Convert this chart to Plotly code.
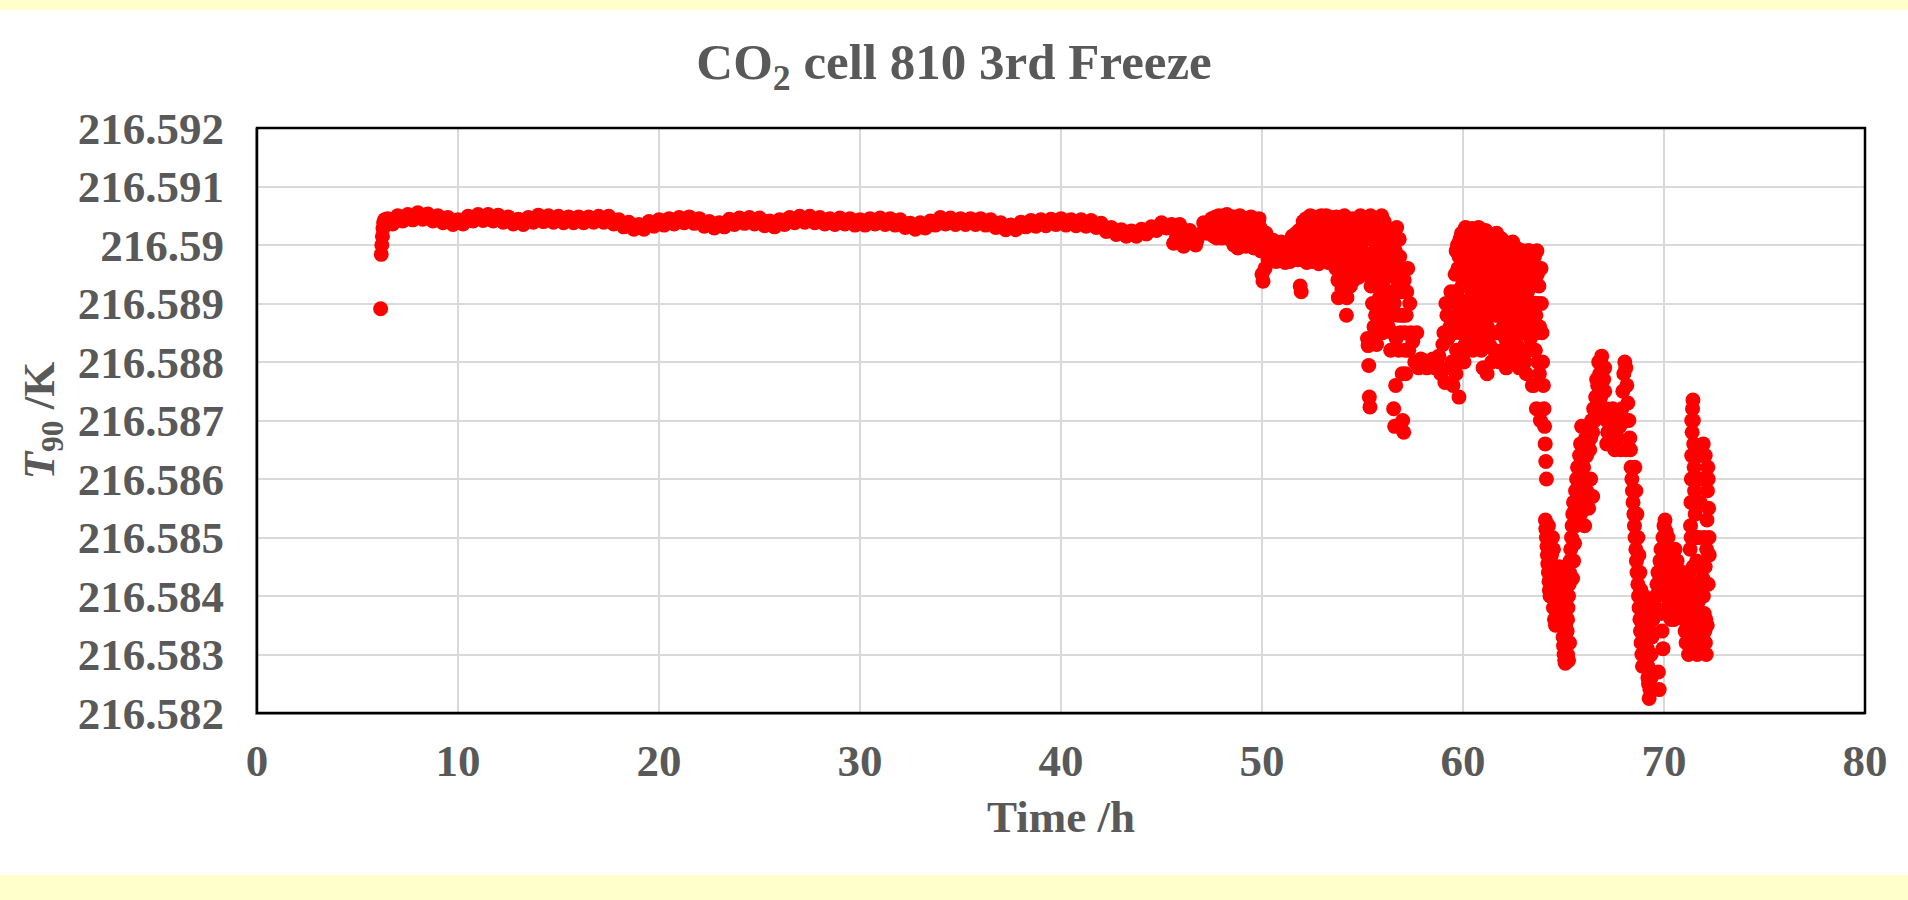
import plotly.graph_objects as go

# ---------------- data ----------------
time_start = [6.15, 6.18, 6.21, 6.24, 6.27, 6.30, 6.35]
t90_start = [216.58891, 216.58984, 216.59000, 216.59015, 216.59028, 216.59038, 216.59043]

time_plateau = [
    6.50, 6.75, 7.00, 7.25, 7.50, 7.75, 8.00, 8.25,
    8.50, 8.75, 9.00, 9.25, 9.50, 9.75, 10.00, 10.25,
    10.50, 10.75, 11.00, 11.25, 11.50, 11.75, 12.00, 12.25,
    12.50, 12.75, 13.00, 13.25, 13.50, 13.75, 14.00, 14.25,
    14.50, 14.75, 15.00, 15.25, 15.50, 15.75, 16.00, 16.25,
    16.50, 16.75, 17.00, 17.25, 17.50, 17.75, 18.00, 18.25,
    18.50, 18.75, 19.00, 19.25, 19.50, 19.75, 20.00, 20.25,
    20.50, 20.75, 21.00, 21.25, 21.50, 21.75, 22.00, 22.25,
    22.50, 22.75, 23.00, 23.25, 23.50, 23.75, 24.00, 24.25,
    24.50, 24.75, 25.00, 25.25, 25.50, 25.75, 26.00, 26.25,
    26.50, 26.75, 27.00, 27.25, 27.50, 27.75, 28.00, 28.25,
    28.50, 28.75, 29.00, 29.25, 29.50, 29.75, 30.00, 30.25,
    30.50, 30.75, 31.00, 31.25, 31.50, 31.75, 32.00, 32.25,
    32.50, 32.75, 33.00, 33.25, 33.50, 33.75, 34.00, 34.25,
    34.50, 34.75, 35.00, 35.25, 35.50, 35.75, 36.00, 36.25,
    36.50, 36.75, 37.00, 37.25, 37.50, 37.75, 38.00, 38.25,
    38.50, 38.75, 39.00, 39.25, 39.50, 39.75, 40.00, 40.25,
    40.50, 40.75, 41.00, 41.25, 41.50, 41.75, 42.00, 42.25,
    42.50, 42.75, 43.00, 43.25, 43.50, 43.75, 44.00, 44.25,
    44.50, 44.75, 45.00, 45.25, 45.50, 45.75, 46.00, 46.25,
    46.50, 46.75, 47.00, 47.25,
]
t90_plateau = [
    216.59045, 216.59036, 216.59050, 216.59041, 216.59052, 216.59043, 216.59055, 216.59044,
    216.59053, 216.59041, 216.59050, 216.59038, 216.59047, 216.59035, 216.59043, 216.59036,
    216.59049, 216.59041, 216.59052, 216.59042, 216.59052, 216.59041, 216.59051, 216.59039,
    216.59048, 216.59036, 216.59044, 216.59035, 216.59047, 216.59039, 216.59051, 216.59040,
    216.59050, 216.59039, 216.59049, 216.59038, 216.59048, 216.59038, 216.59048, 216.59038,
    216.59048, 216.59039, 216.59049, 216.59039, 216.59049, 216.59036, 216.59043, 216.59031,
    216.59039, 216.59027, 216.59035, 216.59027, 216.59040, 216.59032, 216.59043, 216.59034,
    216.59045, 216.59036, 216.59047, 216.59038, 216.59048, 216.59037, 216.59045, 216.59032,
    216.59040, 216.59029, 216.59038, 216.59031, 216.59044, 216.59035, 216.59046, 216.59037,
    216.59047, 216.59036, 216.59046, 216.59033, 216.59041, 216.59031, 216.59043, 216.59035,
    216.59047, 216.59038, 216.59049, 216.59039, 216.59049, 216.59038, 216.59047, 216.59036,
    216.59045, 216.59035, 216.59046, 216.59036, 216.59045, 216.59034, 216.59043, 216.59034,
    216.59045, 216.59036, 216.59046, 216.59035, 216.59045, 216.59034, 216.59043, 216.59030,
    216.59037, 216.59027, 216.59038, 216.59029, 216.59041, 216.59034, 216.59047, 216.59036,
    216.59046, 216.59035, 216.59045, 216.59035, 216.59045, 216.59035, 216.59045, 216.59034,
    216.59043, 216.59030, 216.59038, 216.59026, 216.59034, 216.59026, 216.59039, 216.59031,
    216.59042, 216.59032, 216.59043, 216.59033, 216.59044, 216.59035, 216.59045, 216.59034,
    216.59043, 216.59033, 216.59043, 216.59032, 216.59042, 216.59030, 216.59037, 216.59023,
    216.59030, 216.59018, 216.59026, 216.59015, 216.59024, 216.59015, 216.59027, 216.59019,
    216.59031, 216.59025, 216.59038, 216.59029, 216.59035, 216.59015, 216.59020, 216.59007,
    216.59015, 216.59007, 216.59020, 216.59020,
]

time_dip = [45.60, 45.90, 46.10, 46.40, 46.70, 47.10]
t90_dip = [216.59003, 216.59035, 216.58998, 216.59025, 216.59000, 216.59038]

time_onset = [
    47.40, 47.50, 47.60, 47.70, 47.80, 47.90, 48.00, 48.10, 48.20, 48.30,
    48.40, 48.50, 48.60, 48.70, 48.80, 48.90, 49.00, 49.10, 49.20, 49.30,
    49.40, 49.50, 49.60, 49.70, 49.80, 49.90, 50.00, 50.05, 50.10, 50.20,
    50.30, 50.40, 50.50, 50.60, 50.70, 50.80, 50.90, 51.00, 51.10, 51.20,
    51.30, 51.40, 51.50, 51.60, 51.70, 51.80, 51.90, 51.95, 52.00, 52.10,
    52.20, 52.30, 52.40, 52.50, 52.60, 52.70, 52.80, 52.90, 53.00, 53.10,
    53.20, 53.30, 53.40, 53.50, 53.60, 53.70, 53.80, 53.90, 54.00, 54.10,
    54.20, 54.30, 54.40, 54.50, 54.60, 54.70, 54.80, 54.90, 55.00, 55.10,
    55.20, 55.25, 55.28, 55.31, 55.34, 55.37, 55.40, 55.50, 55.60, 55.70,
    55.80, 55.90, 56.00, 56.10, 56.20, 56.30, 56.40, 56.50, 56.55, 56.60,
    56.65, 56.70, 56.80, 56.90, 57.00, 57.05, 57.10, 57.15, 57.20, 57.30,
    57.40,
]
t90_onset = [
    216.59030, 216.59045, 216.59015, 216.59048, 216.59025, 216.59040, 216.59012, 216.59050, 216.59030, 216.59045,
    216.59010, 216.59048, 216.59000, 216.59035, 216.58995, 216.59050, 216.59015, 216.59042, 216.58998, 216.59045,
    216.59020, 216.59035, 216.58995, 216.59040, 216.59010, 216.59030, 216.58950, 216.58938, 216.58995, 216.59020,
    216.58975, 216.59000, 216.58980, 216.58995, 216.58972, 216.58998, 216.58985, 216.58975, 216.58998, 216.58980,
    216.58995, 216.58972, 216.59015, 216.58985, 216.59020, 216.58975, 216.58930, 216.58920, 216.59010, 216.58975,
    216.59045, 216.58990, 216.59050, 216.58972, 216.59035, 216.59005, 216.59048, 216.58980, 216.59040, 216.58995,
    216.59050, 216.58970, 216.59025, 216.59045, 216.58985, 216.59048, 216.58910, 216.59030, 216.58950, 216.59050,
    216.58880, 216.59005, 216.58930, 216.59045, 216.58970, 216.59020, 216.58945, 216.59050, 216.58960, 216.59035,
    216.58985, 216.58840, 216.58828, 216.58794, 216.58740, 216.58723, 216.59050, 216.58900, 216.59020, 216.58830,
    216.59045, 216.58960, 216.58850, 216.59030, 216.58920, 216.58990, 216.58820, 216.58880, 216.58720, 216.58690,
    216.58760, 216.59030, 216.58820, 216.58960, 216.58700, 216.58680, 216.58850, 216.58780, 216.58920, 216.58820,
    216.58850,
]

time_onset_b = [
    47.45, 47.55, 47.65, 47.75, 47.85, 47.95, 48.05, 48.15, 48.25, 48.35,
    48.45, 48.55, 48.65, 48.75, 48.85, 48.95, 49.05, 49.15, 49.25, 49.35,
    49.45, 49.55, 49.65, 49.75, 49.85, 49.95, 50.15, 50.25, 50.35, 50.45,
    50.55, 50.65, 50.75, 50.85, 50.95, 51.05, 51.15, 51.25, 51.35, 51.45,
    51.55, 51.65, 51.75, 51.85, 52.05, 52.15, 52.25, 52.35, 52.45, 52.55,
    52.65, 52.75, 52.85, 52.95, 53.05, 53.15, 53.25, 53.35, 53.45, 53.55,
    53.65, 53.75, 53.85, 53.95, 54.05, 54.15, 54.25, 54.35, 54.45, 54.55,
    54.65, 54.75, 54.85, 54.95, 55.05, 55.15, 55.45, 55.55, 55.65, 55.75,
    55.85, 55.95, 56.05, 56.15, 56.25, 56.35, 56.45, 56.75, 56.85, 56.95,
    57.25, 57.35,
]
t90_onset_b = [
    216.59040, 216.59020, 216.59035, 216.59012, 216.59050, 216.59028, 216.59042, 216.59018, 216.59052, 216.59025,
    216.59038, 216.59015, 216.59048, 216.59020, 216.59040, 216.59005, 216.59030, 216.59010, 216.59032, 216.59002,
    216.59048, 216.59012, 216.59025, 216.59000, 216.59045, 216.58990, 216.58960, 216.58985, 216.59005, 216.58988,
    216.59008, 216.58980, 216.58992, 216.58975, 216.59005, 216.58985, 216.58970, 216.59002, 216.58985, 216.59005,
    216.58975, 216.59010, 216.58990, 216.59025, 216.59040, 216.59020, 216.59000, 216.59030, 216.59015, 216.59048,
    216.58990, 216.59025, 216.59012, 216.59050, 216.59020, 216.59035, 216.59005, 216.59048, 216.58990, 216.59015,
    216.59030, 216.58990, 216.59045, 216.58975, 216.59015, 216.58920, 216.59040, 216.58960, 216.58990, 216.58940,
    216.59030, 216.58990, 216.59010, 216.58970, 216.59045, 216.58950, 216.59010, 216.58960, 216.58880, 216.58990,
    216.58910, 216.59050, 216.58940, 216.58870, 216.59000, 216.58950, 216.59020, 216.58920, 216.58980, 216.58880,
    216.58960, 216.58900,
]

time_onset_c = [
    52.025, 52.075, 52.125, 52.175, 52.225, 52.275, 52.325, 52.375, 52.425, 52.475,
    52.525, 52.575, 52.625, 52.675, 52.725, 52.775, 52.825, 52.875, 52.925, 52.975,
    53.025, 53.075, 53.125, 53.175, 53.225, 53.275, 53.325, 53.375, 53.425, 53.475,
    53.525, 53.575, 53.625, 53.675, 53.725, 53.775, 53.825, 53.875, 53.925, 53.975,
    54.025, 54.075, 54.125, 54.175, 54.225, 54.275, 54.325, 54.375, 54.425, 54.475,
    54.525, 54.575, 54.625, 54.675, 54.725, 54.775, 54.825, 54.875, 54.925, 54.975,
    55.025, 55.075, 55.125, 55.175, 55.425, 55.475, 55.525, 55.575, 55.625, 55.675,
    55.725, 55.775, 55.825, 55.875, 55.925, 55.975, 56.025, 56.075, 56.125, 56.175,
    56.225, 56.275, 56.325, 56.375, 56.425, 56.475, 56.525, 56.575, 56.625, 56.675,
    56.725, 56.775, 56.825, 56.875, 56.925, 56.975, 57.025, 57.075, 57.125, 57.175,
]
t90_onset_c = [
    216.59005, 216.59035, 216.58985, 216.59022, 216.58970, 216.59040, 216.59010, 216.58980, 216.59028, 216.58995,
    216.59042, 216.59012, 216.58975, 216.59032, 216.58990, 216.59020, 216.58968, 216.59038, 216.59008, 216.58985,
    216.59025, 216.58975, 216.59040, 216.59015, 216.58985, 216.59030, 216.59000, 216.58970, 216.59038, 216.59010,
    216.58980, 216.59030, 216.59005, 216.58960, 216.59020, 216.58940, 216.59000, 216.58960, 216.59040, 216.58925,
    216.58990, 216.59030, 216.58960, 216.59000, 216.58910, 216.59025, 216.58980, 216.58945, 216.59010, 216.58965,
    216.59030, 216.58985, 216.58950, 216.59040, 216.58965, 216.59035, 216.58975, 216.59020, 216.58950, 216.59005,
    216.58980, 216.59020, 216.58965, 216.59040, 216.58930, 216.58970, 216.59040, 216.58860, 216.58950, 216.59000,
    216.58900, 216.58970, 216.58850, 216.59010, 216.58920, 216.58980, 216.58890, 216.59040, 216.58960, 216.58900,
    216.59010, 216.58860, 216.58970, 216.58920, 216.58990, 216.58850, 216.58960, 216.58900, 216.58990, 216.58840,
    216.58940, 216.58880, 216.59010, 216.58850, 216.58920, 216.58780, 216.58880, 216.58940, 216.58820, 216.58880,
]

time_cluster = [
    57.50, 57.60, 57.70, 57.80, 57.90, 58.00, 58.10, 58.20, 58.30, 58.40,
    58.50, 58.60, 58.70, 58.80, 58.90, 59.00, 59.10, 59.20, 59.30, 59.40,
    59.50, 59.55, 59.60, 59.65, 59.70, 59.75, 59.80, 59.85, 59.90, 59.95,
    60.00, 60.05, 60.10, 60.15, 60.20, 60.25, 60.30, 60.35, 60.40, 60.45,
    60.50, 60.55, 60.60, 60.65, 60.70, 60.75, 60.80, 60.85, 60.90, 60.95,
    61.00, 61.05, 61.10, 61.15, 61.20, 61.25, 61.30, 61.35, 61.40, 61.45,
    61.50, 61.55, 61.60, 61.65, 61.70, 61.75, 61.80, 61.85, 61.90, 61.95,
    62.00, 62.05, 62.10, 62.15, 62.20, 62.25, 62.30, 62.35, 62.40, 62.45,
    62.50, 62.55, 62.60, 62.65, 62.70, 62.75, 62.80, 62.85, 62.90, 62.95,
    63.00, 63.05, 63.10, 63.15, 63.20, 63.25, 63.30, 63.35, 63.40, 63.45,
    63.50, 63.55, 63.60, 63.65, 63.70, 63.75, 63.80, 63.85, 63.88, 63.90,
    63.93, 63.96, 64.00, 64.03, 64.06, 64.09, 64.12, 64.15,
]
t90_cluster = [
    216.58835, 216.58800, 216.58850, 216.58790, 216.58805, 216.58795, 216.58802, 216.58790, 216.58800, 216.58795,
    216.58805, 216.58790, 216.58800, 216.58810, 216.58780, 216.58830, 216.58765, 216.58880, 216.58790, 216.58920,
    216.58760, 216.58850, 216.58920, 216.58780, 216.58880, 216.58960, 216.58740, 216.59010, 216.58860, 216.58930,
    216.59020, 216.58800, 216.58970, 216.58880, 216.59025, 216.58940, 216.58850, 216.59000, 216.58910, 216.59028,
    216.58820, 216.58960, 216.58870, 216.59020, 216.58930, 216.58990, 216.58850, 216.59025, 216.58900, 216.58960,
    216.58790, 216.59010, 216.58870, 216.58940, 216.58780, 216.59020, 216.58910, 216.58980, 216.58850, 216.59015,
    216.58930, 216.58820, 216.58990, 216.58880, 216.59010, 216.58950, 216.58800, 216.59012, 216.58900, 216.58970,
    216.58860, 216.59005, 216.58930, 216.58790, 216.58980, 216.58880, 216.59000, 216.58940, 216.58830, 216.58990,
    216.58900, 216.58960, 216.58800, 216.58995, 216.58870, 216.58940, 216.58790, 216.58990, 216.58900, 216.58960,
    216.58850, 216.58985, 216.58920, 216.58780, 216.58960, 216.58880, 216.58990, 216.58840, 216.58930, 216.58760,
    216.58900, 216.58980, 216.58820, 216.58720, 216.58950, 216.58860, 216.58780, 216.58700, 216.58960, 216.58900,
    216.58850, 216.58800, 216.58760, 216.58720, 216.58690, 216.58660, 216.58630, 216.58600,
]

time_cluster_b = [
    59.05, 59.15, 59.25, 59.35, 59.45,
    59.625, 59.675, 59.725, 59.775, 59.825, 59.875, 59.925, 59.975,
    60.025, 60.075, 60.125, 60.175, 60.225, 60.275, 60.325, 60.375, 60.425, 60.475,
    60.525, 60.575, 60.625, 60.675, 60.725, 60.775, 60.825, 60.875, 60.925, 60.975,
    61.025, 61.075, 61.125, 61.175, 61.225, 61.275, 61.325, 61.375, 61.425, 61.475,
    61.525, 61.575, 61.625, 61.675, 61.725, 61.775, 61.825, 61.875, 61.925, 61.975,
    62.025, 62.075, 62.125, 62.175, 62.225, 62.275, 62.325, 62.375, 62.425, 62.475,
    62.525, 62.575, 62.625, 62.675, 62.725, 62.775, 62.825, 62.875, 62.925, 62.975,
    63.025, 63.075, 63.125, 63.175, 63.225, 63.275, 63.325, 63.375, 63.425, 63.475,
    63.525, 63.575, 63.625, 63.675, 63.725, 63.775,
]
t90_cluster_b = [
    216.58850, 216.58900, 216.58840, 216.58860, 216.58800,
    216.58900, 216.58820, 216.59000, 216.58870, 216.58950, 216.58800, 216.59020, 216.58900,
    216.58960, 216.58860, 216.59030, 216.58930, 216.58820, 216.58990, 216.58950, 216.58860, 216.58970, 216.58900,
    216.59010, 216.58830, 216.58990, 216.58890, 216.58960, 216.59030, 216.58920, 216.58860, 216.59010, 216.58940,
    216.58900, 216.58960, 216.59025, 216.58830, 216.58960, 216.58880, 216.59000, 216.58920, 216.58800, 216.58970,
    216.59010, 216.58890, 216.58940, 216.59020, 216.58850, 216.58980, 216.58920, 216.58960, 216.59010, 216.58820,
    216.58960, 216.58900, 216.59000, 216.58850, 216.58940, 216.58990, 216.58900, 216.58810, 216.58960, 216.59005,
    216.58860, 216.58920, 216.58980, 216.58830, 216.58990, 216.58910, 216.58860, 216.58950, 216.58820, 216.58990,
    216.58920, 216.58800, 216.58960, 216.58890, 216.58990, 216.58820, 216.58940, 216.58880, 216.58980, 216.58850,
    216.58760, 216.58940, 216.58880, 216.58990, 216.58800, 216.58930,
]

time_cluster_c = [
    59.61, 59.66, 59.71, 59.76, 59.81, 59.86, 59.91, 59.96, 60.01, 60.06,
    60.11, 60.16, 60.21, 60.26, 60.31, 60.36, 60.41, 60.46, 60.51, 60.56,
    60.61, 60.66, 60.71, 60.76, 60.81, 60.86, 60.91, 60.96, 61.01, 61.06,
    61.11, 61.16, 61.21, 61.26, 61.31, 61.36, 61.41, 61.46, 61.51, 61.56,
    61.61, 61.66, 61.71, 61.76, 61.81, 61.86, 61.91, 61.96, 62.01, 62.06,
    62.11, 62.16, 62.21, 62.26, 62.31, 62.36, 62.41, 62.46, 62.51, 62.56,
    62.61, 62.66, 62.71, 62.76, 62.81, 62.86, 62.91, 62.96, 63.01, 63.06,
    63.11, 63.16, 63.21, 63.26, 63.31, 63.36, 63.41, 63.46, 63.51, 63.56,
    63.61, 63.66, 63.71, 63.76, 63.81,
]
t90_cluster_c = [
    216.58950, 216.58990, 216.58800, 216.58910, 216.58980, 216.58850, 216.58950, 216.59000, 216.58880, 216.58940,
    216.58830, 216.59010, 216.58900, 216.58980, 216.59020, 216.58940, 216.58860, 216.58970, 216.58920, 216.59025,
    216.58840, 216.58950, 216.58890, 216.58860, 216.58970, 216.58940, 216.58820, 216.59010, 216.58940, 216.58850,
    216.58990, 216.58900, 216.58860, 216.58960, 216.58830, 216.59010, 216.58940, 216.58880, 216.58970, 216.58920,
    216.58850, 216.58990, 216.58940, 216.58880, 216.58930, 216.58850, 216.58980, 216.58920, 216.58880, 216.58950,
    216.58840, 216.58990, 216.58920, 216.58850, 216.58960, 216.58900, 216.58980, 216.58860, 216.58940, 216.58880,
    216.58960, 216.58920, 216.58850, 216.58980, 216.58930, 216.58880, 216.58930, 216.58860, 216.58960, 216.58880,
    216.58940, 216.58860, 216.58920, 216.58960, 216.58880, 216.58960, 216.58900, 216.58950, 216.58860, 216.58900,
    216.58960, 216.58850, 216.58900, 216.58960, 216.58860,
]

time_fall = [
    64.10, 64.12, 64.15, 64.18, 64.20, 64.22, 64.25, 64.28, 64.30, 64.33,
    64.36, 64.40, 64.45, 64.50, 64.55, 64.60, 64.65, 64.70, 64.75, 64.80,
    64.83, 64.86, 64.89, 64.92, 64.95, 64.98, 65.00, 65.03, 65.06, 65.09,
    65.12, 65.15, 65.18, 65.20, 65.22, 65.25, 65.28, 65.30, 65.33, 65.36,
    65.40, 65.43, 65.46, 65.50, 65.55, 65.60, 65.65, 65.70, 65.75, 65.80,
    65.85, 65.90, 65.95, 66.00, 66.05, 66.10, 66.15, 66.20, 66.25, 66.30,
    66.35, 66.40, 66.45, 66.50, 66.55, 66.60, 66.65, 66.70, 66.75, 66.80,
    66.85, 66.90, 66.95, 67.00, 67.05, 67.10, 67.15, 67.20, 67.25, 67.30,
    67.40, 67.50, 67.60, 67.70, 67.80, 67.90, 67.95, 68.00, 68.05, 68.10,
    68.15, 68.20, 68.25, 68.30, 68.33, 68.36, 68.40, 68.43, 68.46, 68.50,
    68.53, 68.56, 68.60, 68.63, 68.66, 68.70, 68.73, 68.76, 68.80, 68.83,
    68.86, 68.90, 68.93, 68.96, 69.00, 69.03, 69.06, 69.10, 69.13, 69.16,
    69.20, 69.23, 69.26, 69.30, 69.33, 69.36, 69.40, 69.45, 69.50, 69.55,
    69.60, 69.65, 69.70, 69.75, 69.80, 69.85, 69.90, 69.95, 70.00, 70.05,
    70.10, 70.15, 70.20, 70.25, 70.30, 70.35, 70.40, 70.45, 70.50, 70.55,
    70.60, 70.65, 70.70, 70.75, 70.80, 70.85, 70.90, 70.95, 71.00, 71.05,
    71.10, 71.15, 71.20, 71.25, 71.28, 71.30, 71.32, 71.34, 71.36, 71.38,
    71.40, 71.42, 71.44, 71.46, 71.48, 71.50, 71.52, 71.55, 71.58, 71.60,
    71.63, 71.66, 71.70, 71.73, 71.76, 71.80, 71.83, 71.86, 71.90, 71.93,
    71.96, 72.00, 72.03, 72.06, 72.08, 72.10, 72.12, 72.14, 72.16, 72.18,
    72.20, 72.22, 72.24, 72.25,
]
t90_fall = [
    216.58530, 216.58515, 216.58500, 216.58485, 216.58470, 216.58455, 216.58440, 216.58425, 216.58410, 216.58400,
    216.58440, 216.58470, 216.58500, 216.58480, 216.58450, 216.58350, 216.58440, 216.58420, 216.58400, 216.58450,
    216.58430, 216.58410, 216.58390, 216.58370, 216.58350, 216.58330, 216.58315, 216.58300, 216.58290, 216.58285,
    216.58300, 216.58320, 216.58340, 216.58360, 216.58380, 216.58400, 216.58420, 216.58440, 216.58460, 216.58480,
    216.58500, 216.58520, 216.58540, 216.58560, 216.58545, 216.58580, 216.58600, 216.58620, 216.58600, 216.58640,
    216.58660, 216.58690, 216.58640, 216.58620, 216.58650, 216.58670, 216.58640, 216.58660, 216.58680, 216.58650,
    216.58670, 216.58700, 216.58680, 216.58720, 216.58700, 216.58740, 216.58710, 216.58760, 216.58730, 216.58780,
    216.58800, 216.58810, 216.58790, 216.58770, 216.58750, 216.58720, 216.58700, 216.58680, 216.58700, 216.58680,
    216.58660, 216.58680, 216.58700, 216.58670, 216.58690, 216.58720, 216.58750, 216.58780, 216.58800, 216.58790,
    216.58760, 216.58730, 216.58700, 216.58670, 216.58650, 216.58620, 216.58600, 216.58580, 216.58560, 216.58540,
    216.58520, 216.58500, 216.58480, 216.58460, 216.58440, 216.58420, 216.58400, 216.58380, 216.58360, 216.58340,
    216.58320, 216.58300, 216.58280, 216.58300, 216.58330, 216.58360, 216.58390, 216.58370, 216.58340, 216.58310,
    216.58280, 216.58250, 216.58225, 216.58240, 216.58270, 216.58300, 216.58330, 216.58360, 216.58390, 216.58370,
    216.58400, 216.58420, 216.58440, 216.58410, 216.58460, 216.58480, 216.58450, 216.58500, 216.58520, 216.58530,
    216.58510, 216.58480, 216.58450, 216.58420, 216.58390, 216.58360, 216.58380, 216.58420, 216.58460, 216.58480,
    216.58450, 216.58420, 216.58390, 216.58370, 216.58400, 216.58430, 216.58410, 216.58380, 216.58360, 216.58340,
    216.58320, 216.58340, 216.58370, 216.58400, 216.58440, 216.58480, 216.58520, 216.58560, 216.58600, 216.58640,
    216.58680, 216.58720, 216.58735, 216.58700, 216.58660, 216.58620, 216.58580, 216.58540, 216.58500, 216.58500,
    216.58460, 216.58420, 216.58390, 216.58360, 216.58330, 216.58310, 216.58340, 216.58370, 216.58400, 216.58430,
    216.58400, 216.58370, 216.58340, 216.58320, 216.58360, 216.58420, 216.58480, 216.58530, 216.58580, 216.58620,
    216.58600, 216.58550, 216.58500, 216.58470,
]

time_fall_b = [
    64.25, 64.30, 64.35, 64.40, 64.45, 64.50, 64.55,
    64.95, 65.00, 65.05, 65.10, 65.15, 65.20, 65.25, 65.30,
    65.45, 65.50, 65.55, 65.60, 65.65, 65.70, 65.75, 65.80, 65.90,
    65.85, 65.95, 66.05, 66.15, 66.25, 66.35, 66.45,
    66.65, 66.75, 66.85, 66.95, 67.05, 67.15, 67.35, 67.45, 67.55, 67.65, 67.75, 67.85, 68.10, 68.15,
    68.55, 68.60, 68.65, 68.70, 68.75, 68.80, 68.85, 68.90, 68.95, 69.00, 69.05, 69.10, 69.15, 69.20,
    69.25, 69.30, 69.35, 69.40, 69.72, 69.76,
    69.85, 69.90, 69.95, 70.00, 70.05, 70.10, 70.15, 70.20, 70.25, 70.30, 70.35, 70.40, 70.45, 70.50, 70.55,
    70.65, 70.75, 70.85, 70.95, 71.05, 71.15, 71.20, 71.22,
    71.33, 71.35, 71.36, 71.38, 71.40, 71.42, 71.45, 71.48, 71.50,
    71.65, 71.70, 71.75, 71.80, 71.85, 71.90, 71.95, 72.00, 72.05, 72.05, 72.10, 72.15, 72.20,
]
t90_fall_b = [
    216.58520, 216.58490, 216.58460, 216.58430, 216.58410, 216.58380, 216.58360,
    216.58440, 216.58410, 216.58380, 216.58350, 216.58320, 216.58300, 216.58290, 216.58320,
    216.58430, 216.58460, 216.58490, 216.58520, 216.58550, 216.58570, 216.58590, 216.58600, 216.58630,
    216.58540, 216.58560, 216.58520, 216.58580, 216.58550, 216.58600, 216.58570,
    216.58770, 216.58800, 216.58740, 216.58720, 216.58790, 216.58660, 216.58700, 216.58720, 216.58650,
    216.58690, 216.58710, 216.58650, 216.58650, 216.58700,
    216.58620, 216.58580, 216.58540, 216.58500, 216.58470, 216.58440, 216.58410, 216.58380, 216.58350,
    216.58400, 216.58360, 216.58330, 216.58290, 216.58260, 216.58300, 216.58340, 216.58260, 216.58240,
    216.58270, 216.58240,
    216.58370, 216.58340, 216.58310, 216.58440, 216.58470, 216.58400, 216.58380, 216.58500, 216.58480,
    216.58460, 216.58430, 216.58460, 216.58380, 216.58360, 216.58400,
    216.58460, 216.58440, 216.58380, 216.58440, 216.58420, 216.58400, 216.58320, 216.58300,
    216.58420, 216.58500, 216.58380, 216.58700, 216.58600, 216.58560, 216.58450, 216.58400, 216.58350,
    216.58300, 216.58450, 216.58500, 216.58560, 216.58600, 216.58640, 216.58660, 216.58500, 216.58450,
    216.58640, 216.58300, 216.58350, 216.58420,
]

x_tick_values = [0, 10, 20, 30, 40, 50, 60, 70, 80]
y_tick_values = [216.582, 216.583, 216.584, 216.585, 216.586, 216.587,
                 216.588, 216.589, 216.590, 216.591, 216.592]
y_tick_labels = ["216.582", "216.583", "216.584", "216.585", "216.586", "216.587",
                 "216.588", "216.589", "216.59", "216.591", "216.592"]

chart_title = "CO<sub>2</sub> cell 810 3rd Freeze"
x_title = "Time /h"
y_title = "<i>T</i><sub>90</sub> /K"

# ---------------- figure ----------------
all_time = (time_start + time_plateau + time_dip + time_onset + time_onset_b + time_onset_c
            + time_cluster + time_cluster_b + time_cluster_c + time_fall + time_fall_b)
all_t90 = (t90_start + t90_plateau + t90_dip + t90_onset + t90_onset_b + t90_onset_c
           + t90_cluster + t90_cluster_b + t90_cluster_c + t90_fall + t90_fall_b)

FONT = "Liberation Serif, Times New Roman, serif"
GREY = "#595959"

W, H = 1908, 900
ML, MR, MT, MB = 257, 43, 128, 187
PW, PH = W - ML - MR, H - MT - MB

fig = go.Figure()
fig.add_trace(go.Scatter(
    x=all_time, y=all_t90, mode="markers",
    marker=dict(color="#FF0000", size=15, line=dict(width=0)),
    showlegend=False, hoverinfo="skip",
))

axis_font = dict(family=FONT, size=45, color=GREY, weight="bold")

fig.update_layout(
    width=W, height=H,
    margin=dict(l=ML, r=MR, t=MT, b=MB, pad=0),
    paper_bgcolor="white", plot_bgcolor="white",
    title=dict(text=chart_title, x=0.5, xref="container", xanchor="center",
               y=1 - 61 / H, yref="container", yanchor="middle",
               font=dict(family=FONT, size=51, color=GREY, weight="bold")),
    xaxis=dict(range=[0, 80], tickvals=x_tick_values, showgrid=True,
               gridcolor="#D9D9D9", gridwidth=1.5, zeroline=False,
               showline=True, linecolor="#A6A6A6", linewidth=2, ticks="",
               tickfont=axis_font, ticklabelstandoff=7),
    yaxis=dict(range=[216.582, 216.592], tickvals=y_tick_values, ticktext=y_tick_labels,
               showgrid=True, gridcolor="#D9D9D9", gridwidth=1.5, zeroline=False,
               showline=True, linecolor="#A6A6A6", linewidth=2, ticks="",
               tickfont=axis_font, ticklabelstandoff=22),
    showlegend=False,
)

# axis titles
fig.add_annotation(text=x_title, xref="paper", yref="paper", x=0.5,
                   y=-(817 - (MT + PH)) / PH, xanchor="center", yanchor="middle",
                   showarrow=False, font=axis_font)
fig.add_annotation(text=y_title, xref="paper", yref="paper", x=(41 - ML) / PW,
                   y=0.5, xanchor="center", yanchor="middle", textangle=-90,
                   showarrow=False, font=axis_font)

# pale yellow bands at top and bottom of the page, and the black plot frame
fig.add_shape(type="rect", xref="paper", yref="paper",
              x0=-ML / PW, x1=1 + MR / PW, y0=1 + (MT - 10) / PH, y1=1 + MT / PH,
              line=dict(width=0), fillcolor="#FFFFCC", layer="below")
fig.add_shape(type="rect", xref="paper", yref="paper",
              x0=-ML / PW, x1=1 + MR / PW, y0=-MB / PH, y1=-(MB - 25) / PH,
              line=dict(width=0), fillcolor="#FFFFCC", layer="below")
fig.add_shape(type="rect", xref="paper", yref="paper", x0=0, x1=1, y0=0, y1=1,
              line=dict(color="black", width=2.5), fillcolor="rgba(0,0,0,0)", layer="above")

fig.write_html("out.html")
